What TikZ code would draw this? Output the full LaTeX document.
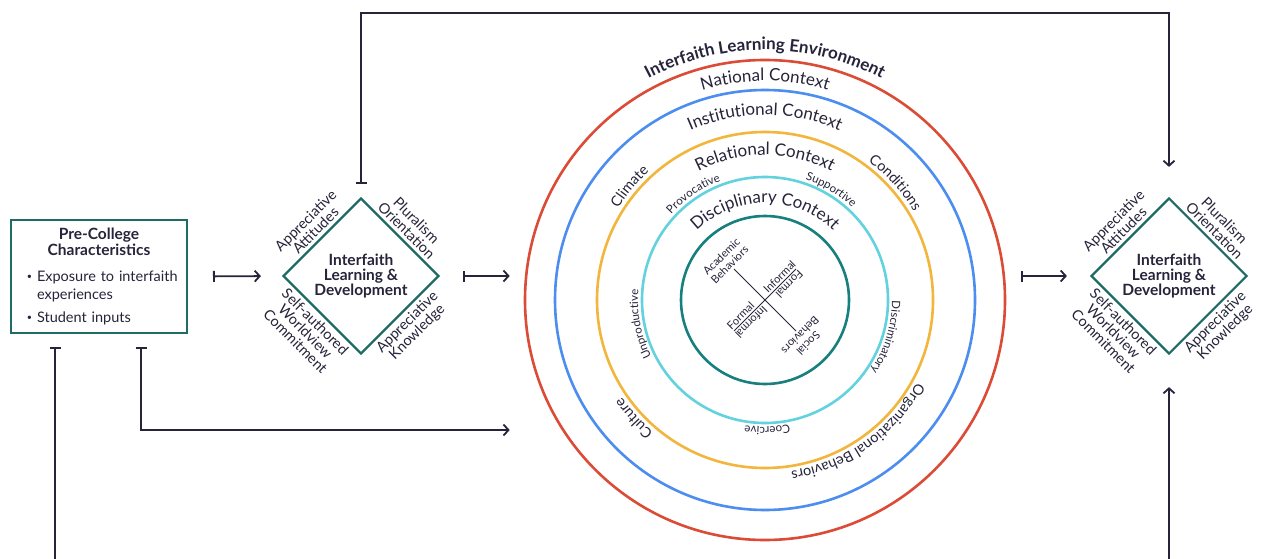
\documentclass[tikz,border=0pt]{standalone}
\usepackage{fontspec}
\setmainfont{Lato}
\usetikzlibrary{arrows.meta,shapes.geometric,decorations.text,positioning}

\definecolor{ink}{HTML}{26243A}
\definecolor{framegreen}{HTML}{1F6B66}
\definecolor{envred}{HTML}{DB4B36}
\definecolor{ctxblue}{HTML}{4C8DF0}
\definecolor{ctxyellow}{HTML}{F2B63C}
\definecolor{ctxcyan}{HTML}{63D2DF}
\definecolor{ctxteal}{HTML}{17807E}

% bullet item with hanging indent for the input box
\newcommand\pcitem[1]{\par\hangindent=18pt\hangafter=1\noindent
  \hbox to 18pt{\hskip8pt\raisebox{1.5pt}{\fontsize{9}{9}\selectfont\textbullet}\hfil}#1\par}
% text set along a ring: angle, baseline radius, font, text
\newcommand\ringtext[4]{%
  \path[decorate,decoration={text along path,text align=center,text color=ink,
    text={|#3|#4}}] (#1+70:#2) arc[start angle=#1+70,end angle=#1-70,radius=#2];}

\begin{document}
\begin{tikzpicture}
[x=1pt,y=1pt,
every node/.style={text=ink},
prebox/.style={draw=framegreen,line width=2pt,rectangle,text width=160pt,inner sep=8pt,
  minimum height=111pt,align=left,font=\fontsize{14.5}{18}\selectfont},
ild/.style={draw=framegreen,line width=2.2pt,diamond,aspect=1,minimum width=156pt,
  minimum height=156pt,inner sep=0pt,align=center,font=\bfseries\fontsize{15.5}{15}\selectfont},
side/.style={align=center,inner sep=3pt,font=\fontsize{14.5}{14}\selectfont},
ring/.style={circle,line width=2.6pt,inner sep=0pt},
link/.style={draw=ink,line width=1.8pt,{Bar[width=11pt]}-{Straight Barb[length=5pt,width=11pt]}},
tiny/.style={inner sep=2pt,font=\fontsize{11}{11.5}\selectfont}]

\clip (0,0) rectangle (1264,-559);
\fill[white] (0,0) rectangle (1264,-559);

\node[prebox] (PC) at (99,-276.5) {%
  {\centering\bfseries\fontsize{15.5}{15.5}\selectfont Pre-College\\Characteristics\par}
  \vspace{8pt}
  \pcitem{Exposure to interfaith\break experiences}
  \vspace{5pt}
  \pcitem{Student inputs}};

\node[ild] (ILD1) at (361,-276) {Interfaith\\Learning \&\\Development};
\node[ild] (ILD2) at (1169,-276) {Interfaith\\Learning \&\\Development};

\foreach \d in {ILD1,ILD2}{
  \node[side,rotate=45,anchor=south] (\d-AA) at (\d.north west) {Appreciative\\Attitudes};
  \node[side,rotate=-45,anchor=south] (\d-PO) at (\d.north east) {Pluralism\\Orientation};
  \node[side,rotate=-45,anchor=north] (\d-SW) at (\d.south west) {Self-authored\\Worldview\\Commitment};
  \node[side,rotate=45,anchor=north] (\d-AK) at (\d.south east) {Appreciative\\Knowledge};
}

% environment rings
\node[ring,draw=envred,minimum size=480pt] (ENV) at (765,-300) {};
\foreach \r/\c in {210/ctxblue,168/ctxyellow,123/ctxcyan,84/ctxteal}
  \draw[\c,line width=2.6pt] (ENV.center) circle[radius=\r];

\begin{scope}[shift={(ENV.center)}]
\ringtext{90}{250}{\bfseries\fontsize{17}{17}\selectfont}{Interfaith Learning Environment}
\ringtext{90}{219}{\fontsize{17}{17}\selectfont}{National Context}
\ringtext{90}{185}{\fontsize{17}{17}\selectfont}{Institutional Context}
\ringtext{90}{145}{\fontsize{17}{17}\selectfont}{Relational Context}
\ringtext{90}{97}{\fontsize{17}{17}\selectfont}{Disciplinary Context}
\ringtext{140}{173}{\fontsize{14.5}{14.5}\selectfont}{Climate}
\ringtext{42}{173}{\fontsize{14.5}{14.5}\selectfont}{Conditions}
\ringtext{222}{173}{\fontsize{14.5}{14.5}\selectfont}{Culture}
\ringtext{-55}{173}{\fontsize{14.5}{14.5}\selectfont}{Organizational Behaviors}
\ringtext{124}{127}{\fontsize{11.5}{11.5}\selectfont}{Provocative}
\ringtext{59}{127}{\fontsize{11.5}{11.5}\selectfont}{Supportive}
\ringtext{191}{127}{\fontsize{11.5}{11.5}\selectfont}{Unproductive}
\ringtext{-17}{127}{\fontsize{11.5}{11.5}\selectfont}{Discriminatory}
\ringtext{271}{127}{\fontsize{11.5}{11.5}\selectfont}{Coercive}

% behaviour cross
\coordinate (AB) at (-31,31);
\coordinate (SB) at (31,-31);
\coordinate (FL) at (-31,-31);
\coordinate (FU) at (31,31);
\draw[ink,line width=1pt] (AB) -- (SB);
\draw[ink,line width=1pt] (FL) -- (FU);
\node[tiny,rotate=45,anchor=south,align=center] (AB-L) at (AB) {Academic\\Behaviors};
\node[tiny,rotate=225,anchor=south,align=center] (SB-L) at (SB) {Social\\Behaviors};
\node[tiny,rotate=45,anchor=south] (FL-A) at (-20,-20) {Formal};
\node[tiny,rotate=225,anchor=south] (FL-B) at (-18,-18) {Informal};
\node[tiny,rotate=45,anchor=south] (FU-A) at (19,19) {Informal};
\node[tiny,rotate=225,anchor=south] (FU-B) at (20,20) {Formal};
\end{scope}

% connectors
\draw[link,shorten <=25pt,shorten >=21pt] (PC.east) -- (ILD1.west);
\draw[link,shorten <=23pt,shorten >=14pt] (ILD1.east) -- (ILD1.east -| ENV.west);
\draw[link,shorten <=15pt,shorten >=23pt] (ENV.east |- ILD2.west) -- (ILD2.west);
\draw[link,shorten <=13pt,shorten >=30pt] (ILD1.north) -- ++(0,184) -| (ILD2.north);
\draw[link,shorten <=13pt] ([xshift=42pt]PC.south) |- ([xshift=-14pt,yshift=-130pt]ENV.west);
\draw[link,shorten <=13pt,shorten >=32pt] ([xshift=-44pt]PC.south) -- ++(0,-240) -| (ILD2.south);
\end{tikzpicture}
\end{document}
